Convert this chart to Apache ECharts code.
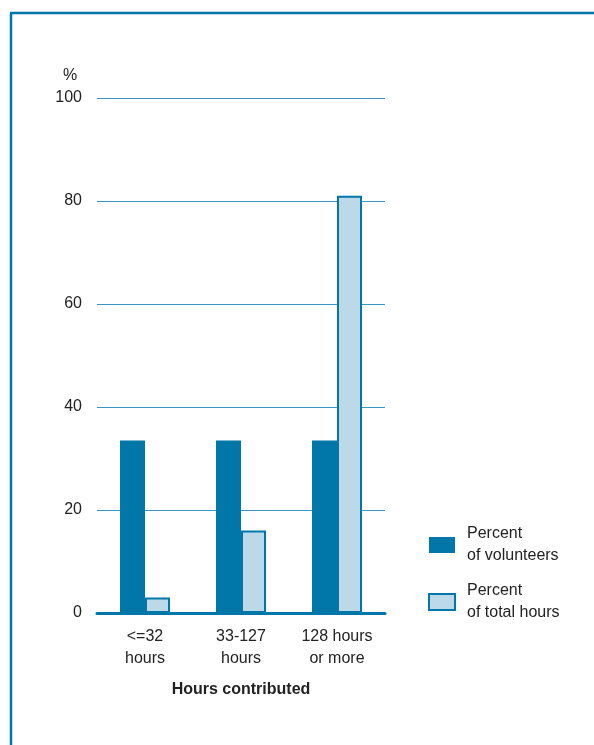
<!DOCTYPE html>
<html><head><meta charset="utf-8">
<script src="https://cdn.jsdelivr.net/npm/echarts@6/dist/echarts.min.js"></script>
<style>html,body{margin:0;padding:0;background:#fff}#c{width:594px;height:745px}</style>
</head><body><div id="c"></div>
<script>
const categories = ['<=32\nhours', '33-127\nhours', '128 hours\nor more'];
const volunteers = [33.5, 33.5, 33.5];
const totalHours = [3, 16, 81];
const yTicks = [0, 20, 40, 60, 80, 100];
const seriesNames = ['Percent\nof volunteers', 'Percent\nof total hours'];

const FONT = "'Liberation Sans', Arial, sans-serif";
const BLUE = '#0077a8';
const LIGHT = '#bcd9ea';
const chart = echarts.init(document.getElementById('c'));
chart.setOption({
  animation: false,
  backgroundColor: '#fff',
  grid: { left: 97, right: 209, top: 98, bottom: 132 },
  legend: {
    orient: 'vertical', left: 423, top: 518,
    itemWidth: 26, itemHeight: 16, itemGap: 13, icon: 'rect',
    textStyle: { fontFamily: FONT, fontSize: 16, color: '#222', lineHeight: 22, padding: [0, 0, 0, 7] },
    data: seriesNames
  },
  xAxis: {
    type: 'category', data: categories,
    axisLine: { lineStyle: { color: BLUE, width: 3 } },
    axisTick: { show: false },
    axisLabel: { interval: 0, fontFamily: FONT, fontSize: 16, color: '#222', lineHeight: 22, margin: 13 },
    name: 'Hours contributed', nameLocation: 'middle', nameGap: 69,
    nameTextStyle: { fontFamily: FONT, fontSize: 16, fontWeight: 'bold', color: '#222' }
  },
  yAxis: {
    type: 'value', min: yTicks[0], max: yTicks[yTicks.length - 1], interval: 20,
    axisLine: { show: false }, axisTick: { show: false },
    axisLabel: { fontFamily: FONT, fontSize: 16, color: '#222', margin: 15, padding: [5, 0, 0, 0] },
    splitLine: { lineStyle: { color: '#3896c3', width: 1.2 } }
  },
  graphic: [
    { type: 'line', shape: { x1: 11, y1: 13, x2: 11, y2: 745 }, style: { stroke: BLUE, lineWidth: 2.5 } },
    { type: 'line', shape: { x1: 10, y1: 13, x2: 594, y2: 13 }, style: { stroke: BLUE, lineWidth: 2.5 } },
    { type: 'text', left: 63, top: 68, style: { text: '%', font: "16px " + FONT, fill: '#222' } }
  ],
  series: [
    { name: seriesNames[0], type: 'bar', data: volunteers, barWidth: 25, barGap: '0%',
      itemStyle: { color: BLUE } },
    { name: seriesNames[1], type: 'bar', data: totalHours, barWidth: 25,
      itemStyle: { color: LIGHT, borderColor: BLUE, borderWidth: 2 } }
  ]
});
</script></body></html>
